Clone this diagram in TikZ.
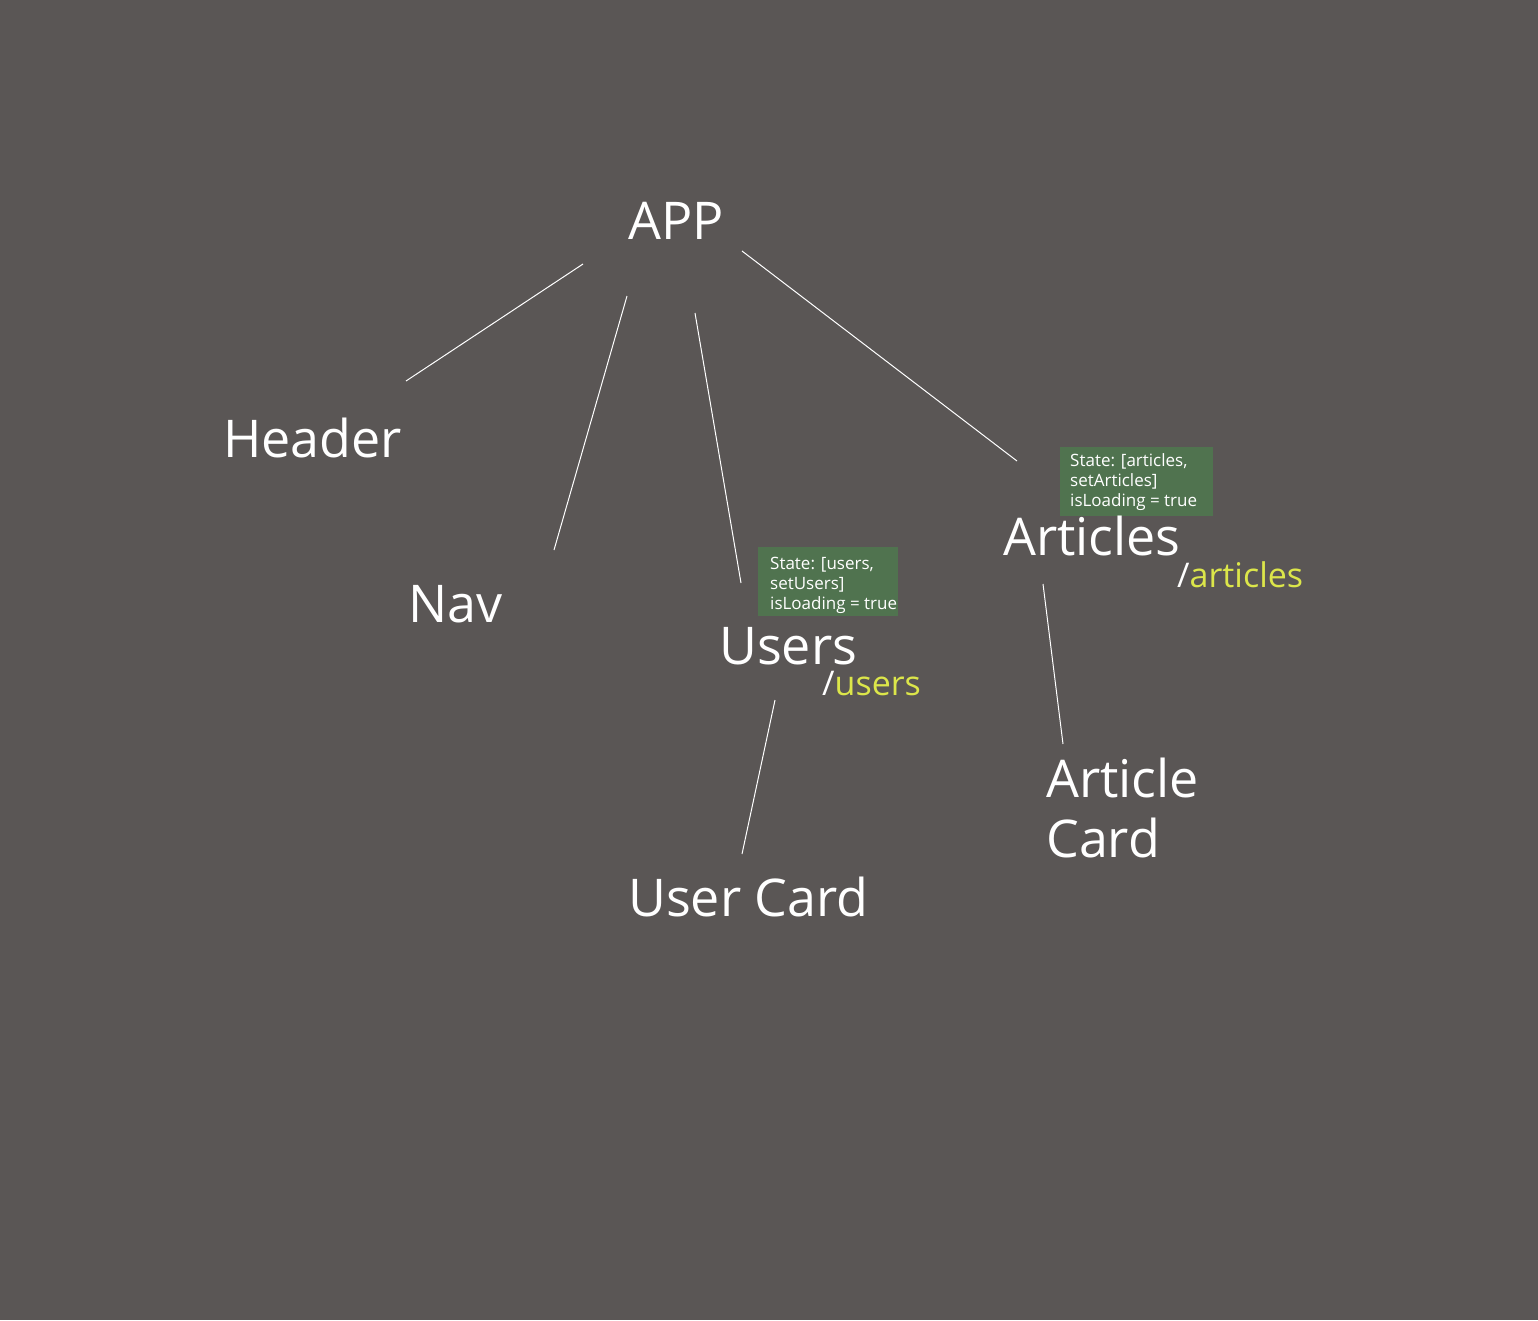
\documentclass[tikz,border=0pt]{standalone}
\usepackage{fontspec}
\setmainfont{Open Sans}
\definecolor{bg}{HTML}{5A5655}
\definecolor{stategreen}{HTML}{50734F}
\definecolor{routey}{HTML}{DCE64A}
\begin{document}
\begin{tikzpicture}[x=1pt,y=-1pt,
  big/.style={inner sep=0pt,anchor=base west,text=white,font=\fontsize{52}{60}\selectfont},
  route/.style={inner sep=0pt,anchor=base west,text=white,font=\fontsize{34}{40}\selectfont},
  statebox/.style={fill=stategreen,anchor=north west,inner sep=0pt},
  statetext/.style={inner sep=0pt,anchor=base west,text=white,align=left,font=\fontsize{17}{20}\selectfont},
  link/.style={draw=white,line width=1pt}]
\fill[bg] (0,0) rectangle (1538,1320);
\useasboundingbox (0,0) rectangle (1538,1320);
% state boxes
\node[statebox,minimum width=140pt,minimum height=69pt] (userstate) at (758,547) {};
\node[statebox,minimum width=153pt,minimum height=69pt] (articlesstate) at (1060,447) {};
\node[statetext] (userstatetext) at (770,609) {State: [users,\\setUsers]\\isLoading = true};
\node[statetext] (articlesstatetext) at (1070,506) {State: [articles,\\setArticles]\\isLoading = true};
% labels
\node[big] (app) at (628,239) {APP};
\node[big] (header) at (223,457) {Header};
\node[big] (nav) at (408,622) {Nav};
\node[big] (users) at (719,664) {Users};
\node[big] (usercard) at (628,916) {User Card};
\node[big] (articles) at (1003,555) {Articles};
\node[big] (articlecard) at (1046,797) {Article};
\node[big] (articlecard2) at (1046,857) {Card};
\node[route] (usersroute) at (822,695) {/\textcolor{routey}{users}};
\node[route] (articlesroute) at (1177,587) {/\textcolor{routey}{articles}};
% connector end points
\coordinate (a1) at (583,264); \coordinate (h1) at (406,381);
\coordinate (a2) at (627,296); \coordinate (n1) at (554,550);
\coordinate (a3) at (695,313); \coordinate (u1) at (741,583);
\coordinate (a4) at (742,251); \coordinate (ar1) at (1017,461);
\coordinate (ar2) at (1043,584); \coordinate (ac1) at (1063,744);
\coordinate (u2) at (775,700); \coordinate (uc1) at (742,854);
\draw[link] (a1) -- (h1);
\draw[link] (a2) -- (n1);
\draw[link] (a3) -- (u1);
\draw[link] (a4) -- (ar1);
\draw[link] (ar2) -- (ac1);
\draw[link] (u2) -- (uc1);
\end{tikzpicture}
\end{document}
